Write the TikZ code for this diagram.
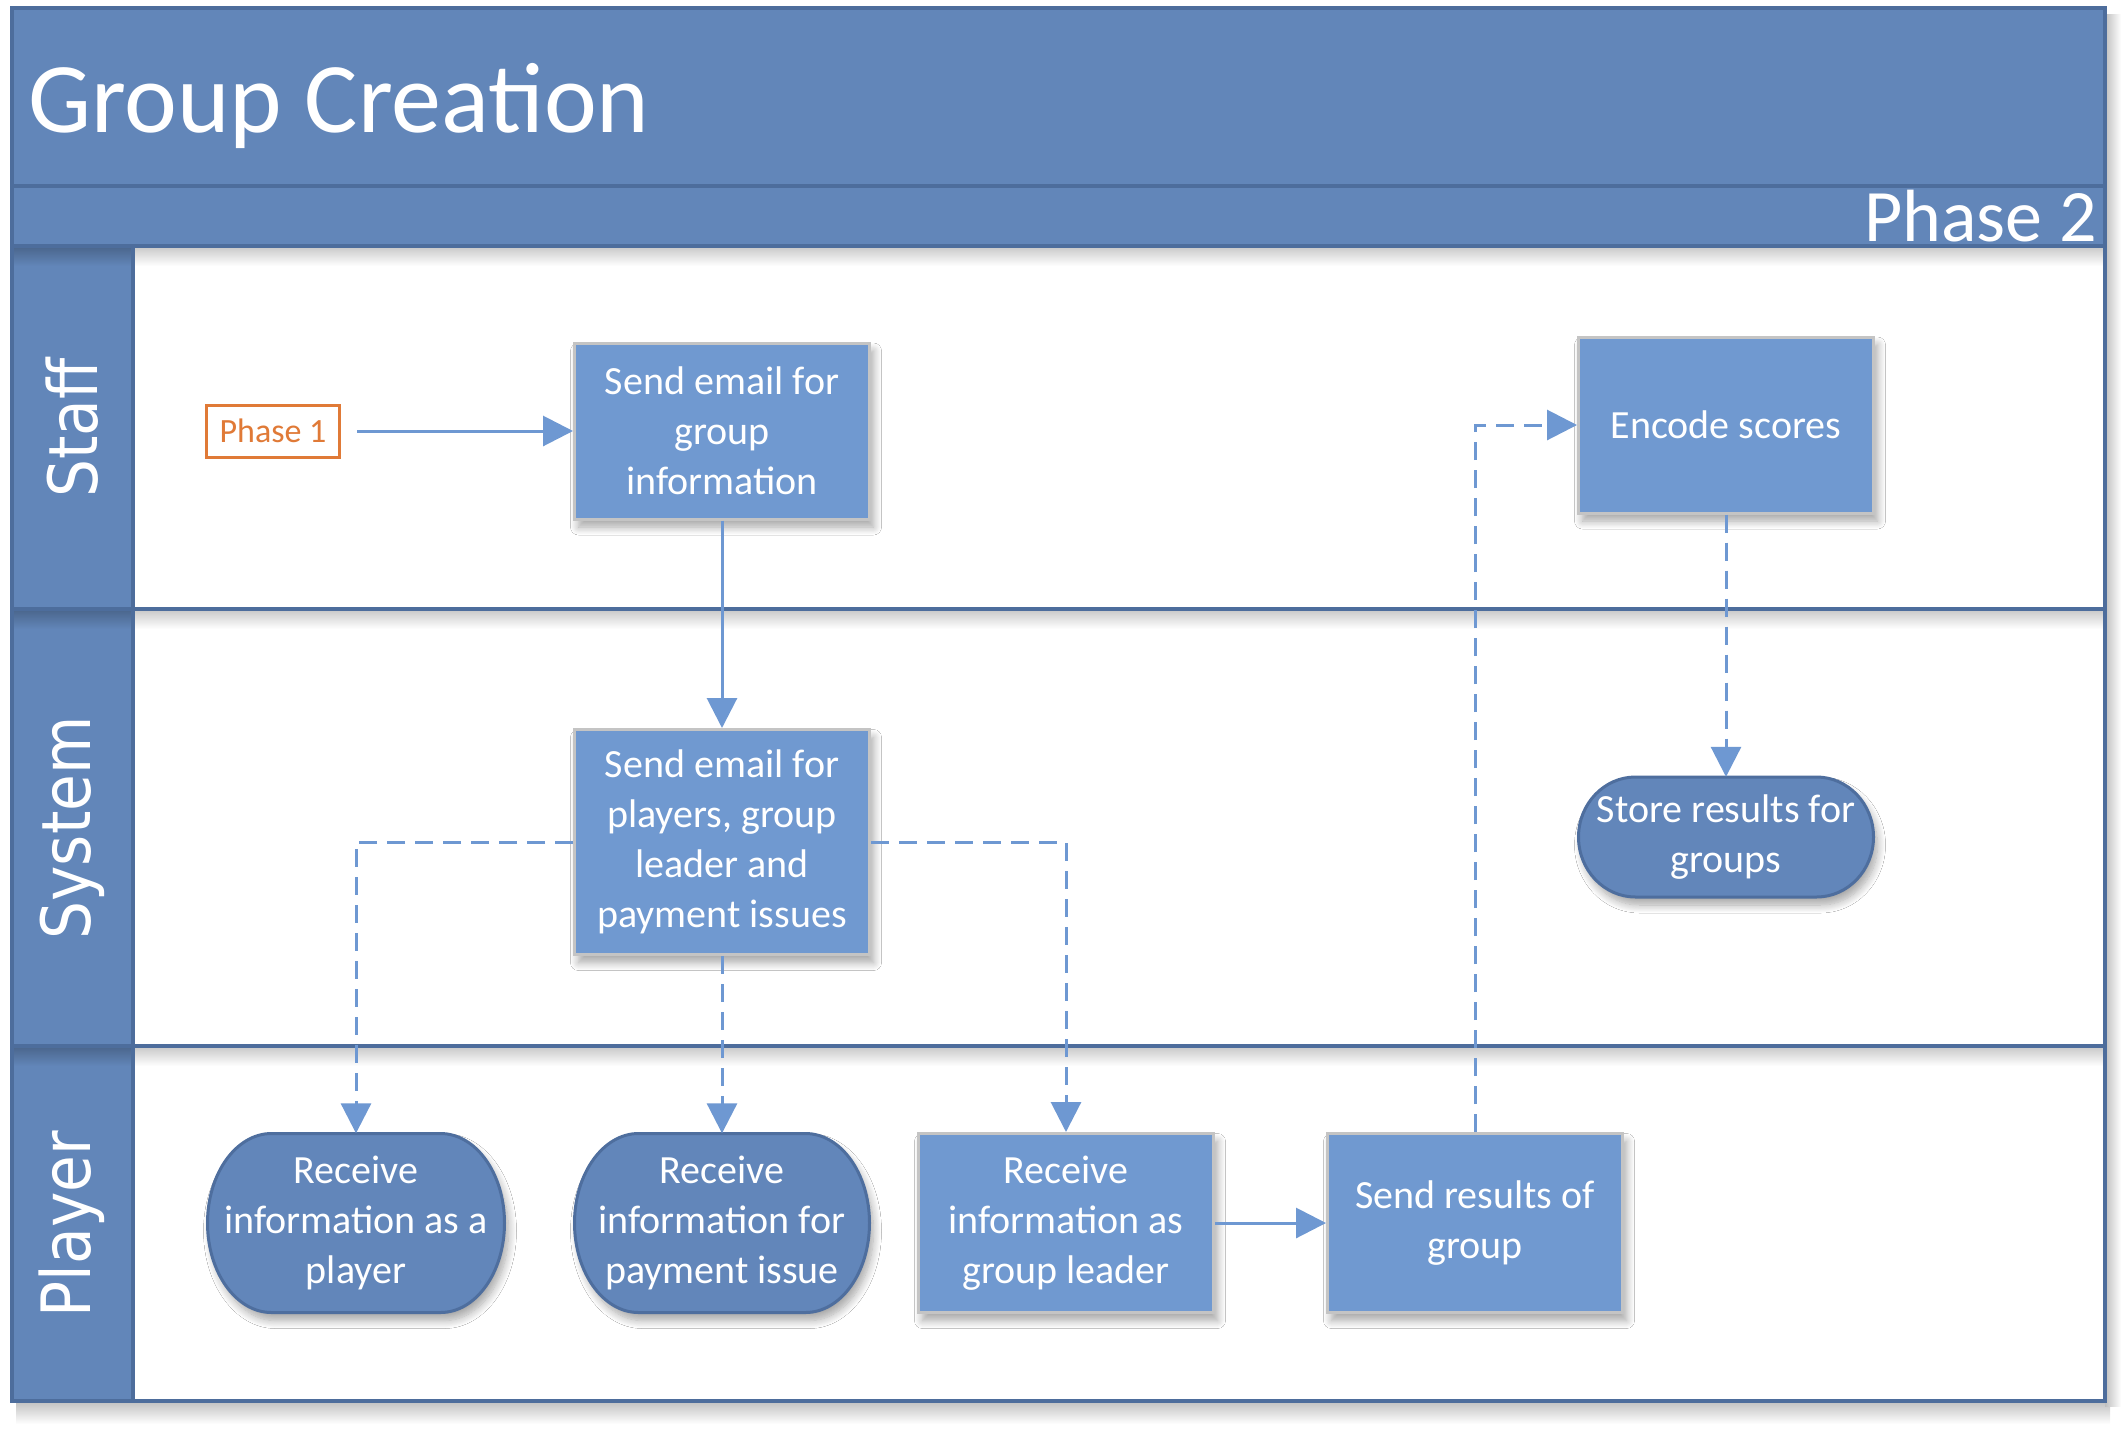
\documentclass[tikz,border=0pt]{standalone}
\usepackage{fontspec}
\setmainfont{Carlito}
\newfontfamily\lanefont[FakeStretch=0.88]{DejaVu Sans}
\usetikzlibrary{arrows.meta,shadows.blur}
\definecolor{hdr}{HTML}{6286B9}
\definecolor{frm}{HTML}{4D6D9C}
\definecolor{boxfill}{HTML}{7099D0}
\definecolor{boxline}{HTML}{C4C4C4}
\definecolor{termfill}{HTML}{6286BA}
\definecolor{termline}{HTML}{4E6E9E}
\definecolor{conn}{HTML}{6E98D2}
\definecolor{orng}{HTML}{E07A37}
% centre x, centre y, half width, half height, end radius
\newcommand\termpath[5]{%
  \path[termshp] (#1-#3+#5,#2-#4) -- (#1+#3-#5,#2-#4)
    arc[start angle=90,end angle=-90,x radius=#5pt,y radius=#4pt]
    -- (#1-#3+#5,#2+#4)
    arc[start angle=270,end angle=90,x radius=#5pt,y radius=#4pt] -- cycle;}
\begin{document}
\begin{tikzpicture}[x=1pt,y=-1pt,
  myshadow/.style={blur shadow={shadow xshift=4pt, shadow yshift=-8pt, shadow opacity=35, shadow blur steps=10, shadow blur radius=8pt}},
  boxnode/.style={rectangle, fill=boxfill, draw=boxline, line width=3pt, minimum width=295pt, text=white, align=center, font=\fontsize{40}{50}\selectfont, inner sep=0pt, myshadow},
  termtext/.style={rectangle, text=white, align=center, font=\fontsize{40}{50}\selectfont, inner sep=0pt},
  termshp/.style={fill=termfill, draw=termline, line width=3pt, myshadow},
  flow/.style={draw=conn, line width=3pt, -{Triangle[length=30pt,width=30pt]}},
  dflow/.style={flow, dash pattern=on 18pt off 10pt},
  lanelbl/.style={rotate=90, text=white, inner sep=0pt, font=\lanefont\fontsize{68}{70}\selectfont},
  hdrtext/.style={text=white, inner sep=0pt},
  frame/.style={draw=frm, line width=3.5pt},
]
\useasboundingbox (0,0) rectangle (2123,1433);
% outer shadow
\shade[top color=black!25, bottom color=white] (16,1401) rectangle (2110,1424);
\shade[left color=black!25, right color=white] (2105,14) rectangle (2121,1406);
\fill[white] (12,8) rectangle (2105,1401);
\fill[hdr] (12,8) rectangle (2105,246);
\fill[hdr] (12,246) rectangle (133,1401);
% shadows beneath dividers
\foreach \yy in {246,609,1046} {
  \shade[top color=black!22, bottom color=white] (133,\yy) rectangle (2105,\yy+20);
  \shade[top color=hdr!75!black, bottom color=hdr] (12,\yy) rectangle (133,\yy+20);
}
\draw[frame] (12,186) -- (2105,186);
\draw[frame] (12,246) -- (2105,246);
\draw[frame] (12,609) -- (2105,609);
\draw[frame] (12,1046) -- (2105,1046);
\draw[frame] (133,246) -- (133,1401);
\draw[frame] (12,8) rectangle (2105,1401);

\node[hdrtext, anchor=base west, font=\fontsize{100}{110}\selectfont] (title) at (28,132) {Group Creation};
\node[hdrtext, anchor=base east, font=\fontsize{74}{80}\selectfont] (phase2) at (2097,241) {Phase 2};

\node[lanelbl] (lstaff) at (72,428) {Staff};
\node[lanelbl] (lsystem) at (72,828) {System};
\node[lanelbl] (lplayer) at (72,1224) {Player};

\node[draw=orng, line width=3pt, text=orng, font=\fontsize{34}{40}\selectfont, minimum width=133pt, minimum height=52pt, inner sep=0pt] (phase1) at (273,431) {Phase 1};

\node[boxnode, minimum height=176pt] (send1) at (722,431) {Send email for\\group\\information};
\node[boxnode, minimum height=176pt] (encode) at (1726,425) {Encode scores};
\node[boxnode, minimum height=225pt] (sendsys) at (722,842) {Send email for\\players, group\\leader and\\payment issues};
\node[boxnode, minimum height=179pt] (rleader) at (1066,1223) {Receive\\information as\\group leader};
\node[boxnode, minimum height=179pt] (sendres) at (1475,1223) {Send results of\\group};

\termpath{1726}{837}{147.5}{60}{57}
\termpath{356}{1223}{148.5}{89.5}{64}
\termpath{722}{1223}{147.5}{89.5}{64}
\node[termtext, minimum width=295pt, minimum height=120pt] (store) at (1726,837) {Store results for\\groups};
\node[termtext, minimum width=297pt, minimum height=179pt] (rplayer) at (356,1223) {Receive\\information as a\\player};
\node[termtext, minimum width=295pt, minimum height=179pt] (rpay) at (722,1223) {Receive\\information for\\payment issue};

\draw[flow, shorten <=16pt] (phase1) -- (send1);
\draw[flow] (send1) -- (sendsys);
\draw[dflow] (sendsys.west) -| (rplayer.north);
\draw[dflow] (sendsys.south) -- (rpay.north);
\draw[dflow] (sendsys.east) -| (rleader.north);
\draw[flow] (rleader) -- (sendres);
\draw[dflow] (sendres.north) |- (encode.west);
\draw[dflow] (encode) -- (store);
\end{tikzpicture}
\end{document}
